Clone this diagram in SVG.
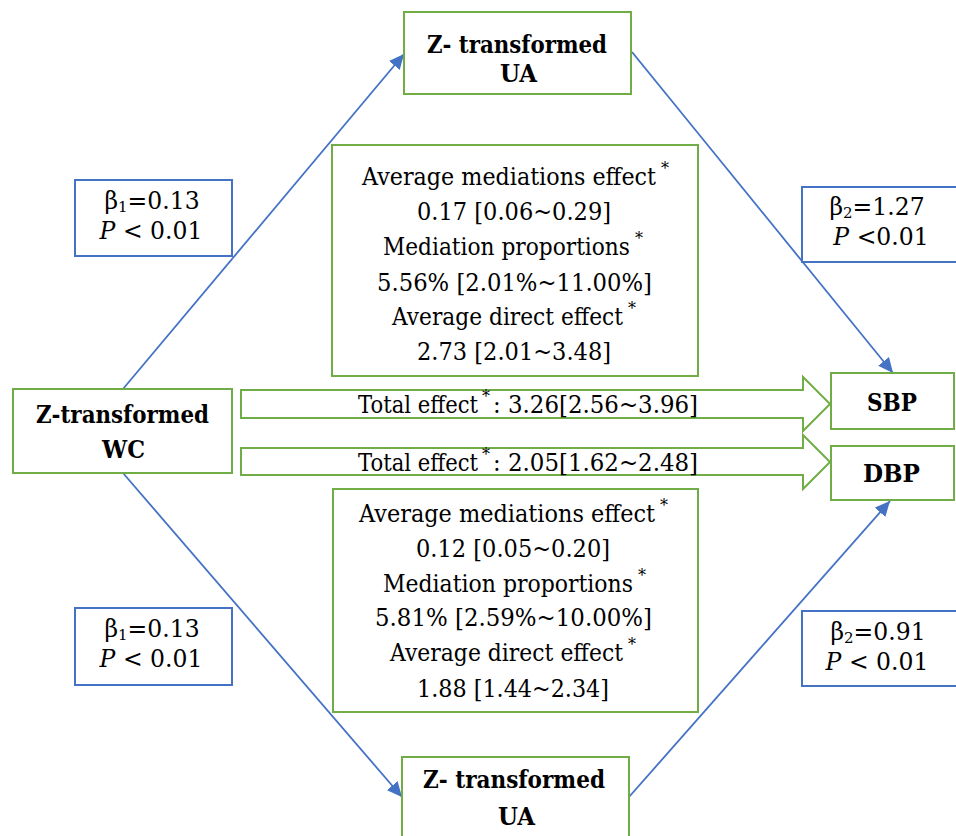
<svg xmlns="http://www.w3.org/2000/svg" width="956" height="836" viewBox="0 0 956 836">
<style>
.bg{fill:#ffffff}
.node{fill:#ffffff;stroke:#70AD47;stroke-width:2}
.stat{fill:#ffffff;stroke:#4472C4;stroke-width:2}
.blk{fill:#ffffff;stroke:#70AD47;stroke-width:2}
.edge{fill:none;stroke:#4472C4;stroke-width:1.8}
text{font-family:'DejaVu Serif',serif;fill:#000000}
.t{font-size:25px}
.b{font-size:25px;font-weight:bold}
.s{font-size:23.5px}
.sup{font-size:16px}
.sub{font-size:15px}
.i{font-style:italic}
</style>
<defs>
<marker id="ah" markerUnits="userSpaceOnUse" markerWidth="16" markerHeight="14" refX="15" refY="7" orient="auto">
<path d="M0,0 L15,7 L0,14 z" fill="#4472C4"/>
</marker>
</defs>
<rect class="bg" x="0" y="0" width="956" height="836"/>

<g id="connectors">
<line class="edge" x1="123" y1="389" x2="404" y2="54" marker-end="url(#ah)"/>
<line class="edge" x1="632" y1="52" x2="893" y2="373" marker-end="url(#ah)"/>
<line class="edge" x1="123" y1="473" x2="402" y2="797" marker-end="url(#ah)"/>
<line class="edge" x1="629" y1="797" x2="890" y2="501" marker-end="url(#ah)"/>
<g id="total-sbp">
<polygon class="blk" points="241,390 803,390 803,377 830,404 803,431 803,418 241,418"/>
<text class="t" x="358" y="413" textLength="120" lengthAdjust="spacingAndGlyphs">Total effect</text>
<text class="sup" x="482" y="402">*</text>
<text class="t" x="493" y="413" textLength="205" lengthAdjust="spacingAndGlyphs">:  3.26[2.56~3.96]</text>
</g>
<g id="total-dbp">
<polygon class="blk" points="241,448 803,448 803,435 830,462 803,489 803,475 241,475"/>
<text class="t" x="358" y="471" textLength="120" lengthAdjust="spacingAndGlyphs">Total effect</text>
<text class="sup" x="482" y="460">*</text>
<text class="t" x="493" y="471" textLength="205" lengthAdjust="spacingAndGlyphs">:  2.05[1.62~2.48]</text>
</g>
</g>

<g id="ua-top">
<rect class="node" x="404" y="12" width="227" height="82"/>
<text class="b" x="427" y="53" textLength="180" lengthAdjust="spacingAndGlyphs">Z- transformed</text>
<text class="b" x="500" y="82" textLength="37" lengthAdjust="spacingAndGlyphs">UA</text>
</g>

<g id="ua-bottom">
<rect class="node" x="402" y="757" width="227" height="90"/>
<text class="b" x="423" y="788" textLength="182" lengthAdjust="spacingAndGlyphs">Z- transformed</text>
<text class="b" x="498" y="825" textLength="37" lengthAdjust="spacingAndGlyphs">UA</text>
</g>

<g id="wc">
<rect class="node" x="13" y="389" width="219" height="84"/>
<text class="b" x="36" y="423" textLength="173" lengthAdjust="spacingAndGlyphs">Z-transformed</text>
<text class="b" x="102" y="458" textLength="43" lengthAdjust="spacingAndGlyphs">WC</text>
</g>

<g id="sbp">
<rect class="node" x="831" y="373" width="123" height="56"/>
<text class="b" x="867" y="411" textLength="50" lengthAdjust="spacingAndGlyphs">SBP</text>
</g>

<g id="dbp">
<rect class="node" x="831" y="446" width="123" height="54"/>
<text class="b" x="863" y="482" textLength="57" lengthAdjust="spacingAndGlyphs">DBP</text>
</g>

<g id="mediation-sbp">
<rect class="node" x="332" y="145" width="366" height="231"/>
<text class="t" x="362" y="185" textLength="294" lengthAdjust="spacingAndGlyphs">Average mediations effect</text>
<text class="sup" x="661" y="174">*</text>
<text class="t" x="417" y="220" textLength="194" lengthAdjust="spacingAndGlyphs">0.17 [0.06~0.29]</text>
<text class="t" x="383" y="255" textLength="247" lengthAdjust="spacingAndGlyphs">Mediation proportions</text>
<text class="sup" x="635" y="244">*</text>
<text class="t" x="377" y="291" textLength="275" lengthAdjust="spacingAndGlyphs">5.56% [2.01%~11.00%]</text>
<text class="t" x="392" y="325" textLength="231" lengthAdjust="spacingAndGlyphs">Average direct effect</text>
<text class="sup" x="628" y="314">*</text>
<text class="t" x="417" y="360" textLength="194" lengthAdjust="spacingAndGlyphs">2.73 [2.01~3.48]</text>
</g>

<g id="mediation-dbp">
<rect class="node" x="333" y="489" width="365" height="223"/>
<text class="t" x="359" y="522" textLength="296" lengthAdjust="spacingAndGlyphs">Average mediations effect</text>
<text class="sup" x="660" y="511">*</text>
<text class="t" x="416" y="557" textLength="194" lengthAdjust="spacingAndGlyphs">0.12 [0.05~0.20]</text>
<text class="t" x="383" y="592" textLength="250" lengthAdjust="spacingAndGlyphs">Mediation proportions</text>
<text class="sup" x="638" y="581">*</text>
<text class="t" x="375" y="626" textLength="277" lengthAdjust="spacingAndGlyphs">5.81% [2.59%~10.00%]</text>
<text class="t" x="390" y="661" textLength="233" lengthAdjust="spacingAndGlyphs">Average direct effect</text>
<text class="sup" x="628" y="650">*</text>
<text class="t" x="417" y="697" textLength="192" lengthAdjust="spacingAndGlyphs">1.88 [1.44~2.34]</text>
</g>

<g id="beta1-top">
<rect class="stat" x="75" y="180" width="157" height="76"/>
<text class="s" x="152" y="209" text-anchor="middle">β<tspan class="sub" dy="3">1</tspan><tspan dy="-3">=0.13</tspan></text>
<text class="s" x="151" y="239" text-anchor="middle"><tspan class="i">P</tspan> &lt; 0.01</text>
</g>

<g id="beta2-top">
<rect class="stat" x="802" y="187" width="160" height="75"/>
<text class="s" x="877" y="215" text-anchor="middle">β<tspan class="sub" dy="3">2</tspan><tspan dy="-3">=1.27</tspan></text>
<text class="s" x="881" y="245" text-anchor="middle"><tspan class="i">P</tspan> &lt;0.01</text>
</g>

<g id="beta1-bottom">
<rect class="stat" x="75" y="608" width="157" height="77"/>
<text class="s" x="152" y="637" text-anchor="middle">β<tspan class="sub" dy="3">1</tspan><tspan dy="-3">=0.13</tspan></text>
<text class="s" x="151" y="667" text-anchor="middle"><tspan class="i">P</tspan> &lt; 0.01</text>
</g>

<g id="beta2-bottom">
<rect class="stat" x="802" y="611" width="160" height="75"/>
<text class="s" x="878" y="640" text-anchor="middle">β<tspan class="sub" dy="3">2</tspan><tspan dy="-3">=0.91</tspan></text>
<text class="s" x="877" y="670" text-anchor="middle"><tspan class="i">P</tspan> &lt; 0.01</text>
</g>
</svg>
